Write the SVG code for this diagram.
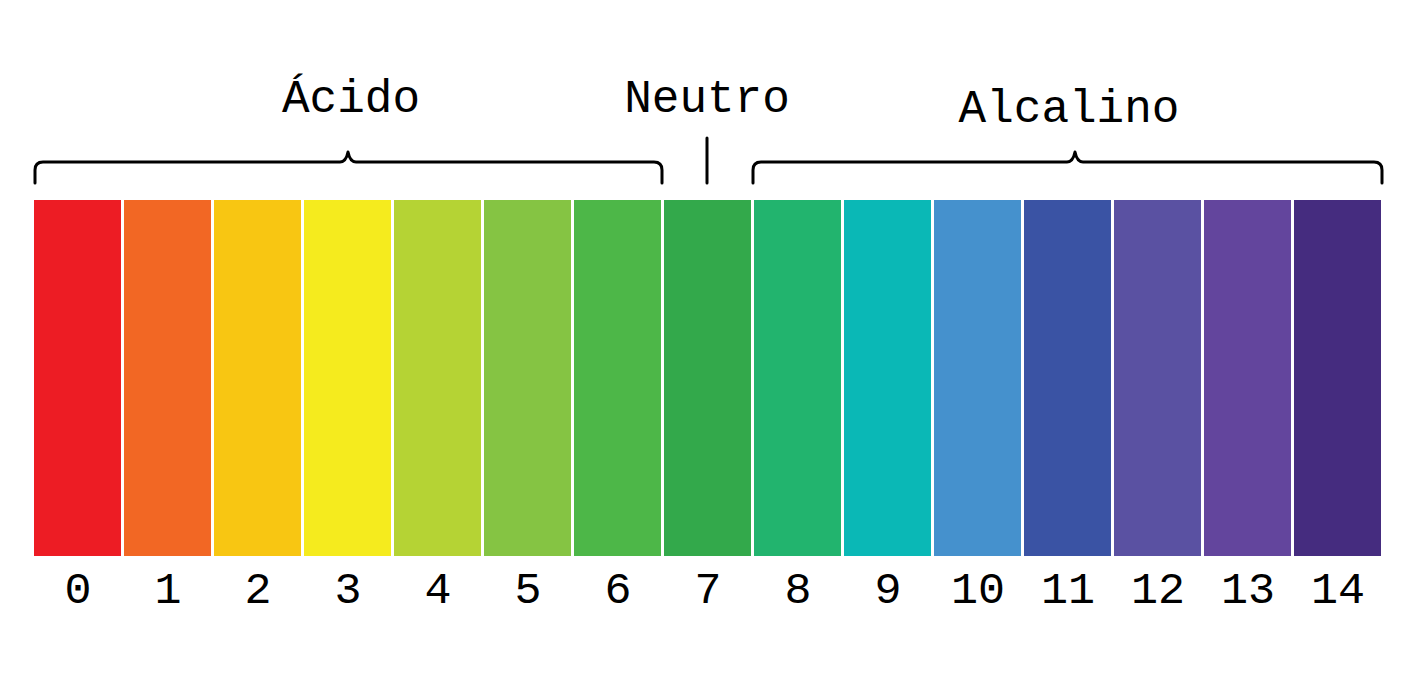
<svg xmlns="http://www.w3.org/2000/svg" width="1418" height="688" viewBox="0 0 1418 688">
<style>
.lbl{font-family:"Liberation Mono","Courier New",monospace;font-size:46px;fill:#000;text-anchor:middle}
.num{font-family:"Liberation Mono","Courier New",monospace;font-size:45px;fill:#000;text-anchor:middle}
.br{fill:none;stroke:#000;stroke-width:3;stroke-linecap:round;stroke-linejoin:round}
</style>
<rect width="1418" height="688" fill="#fff"/>
<g id="bars">
<rect x="34" y="200" width="87" height="356" fill="#ED1C24"/>
<rect x="124" y="200" width="87" height="356" fill="#F26724"/>
<rect x="214" y="200" width="87" height="356" fill="#F8C612"/>
<rect x="304" y="200" width="87" height="356" fill="#F5EB1E"/>
<rect x="394" y="200" width="87" height="356" fill="#B5D334"/>
<rect x="484" y="200" width="87" height="356" fill="#85C443"/>
<rect x="574" y="200" width="87" height="356" fill="#4DB748"/>
<rect x="664" y="200" width="87" height="356" fill="#33A94B"/>
<rect x="754" y="200" width="87" height="356" fill="#22B46E"/>
<rect x="844" y="200" width="87" height="356" fill="#0AB8B6"/>
<rect x="934" y="200" width="87" height="356" fill="#4591CD"/>
<rect x="1024" y="200" width="87" height="356" fill="#3A53A4"/>
<rect x="1114" y="200" width="87" height="356" fill="#5A51A2"/>
<rect x="1204" y="200" width="87" height="356" fill="#63459D"/>
<rect x="1294" y="200" width="87" height="356" fill="#452C7F"/>
</g>
<g id="numbers">
<text class="num" x="78" y="603">0</text>
<text class="num" x="168" y="603">1</text>
<text class="num" x="258" y="603">2</text>
<text class="num" x="348" y="603">3</text>
<text class="num" x="438" y="603">4</text>
<text class="num" x="528" y="603">5</text>
<text class="num" x="618" y="603">6</text>
<text class="num" x="708" y="603">7</text>
<text class="num" x="798" y="603">8</text>
<text class="num" x="888" y="603">9</text>
<text class="num" x="978" y="603">10</text>
<text class="num" x="1068" y="603">11</text>
<text class="num" x="1158" y="603">12</text>
<text class="num" x="1248" y="603">13</text>
<text class="num" x="1338" y="603">14</text>
</g>
<g id="connectors">
<path class="br" d="M35,183 V170 Q35,162 43,162 H340 Q346,162 348,152 Q350,162 356,162 H654 Q662,162 662,170 V183"/>
<path class="br" d="M707,138 V183"/>
<path class="br" d="M753,183 V170 Q753,162 761,162 H1067 Q1073,162 1075,152 Q1077,162 1083,162 H1374 Q1382,162 1382,170 V183"/>
</g>
<g id="acido"><text class="lbl" x="351" y="112">Ácido</text></g>
<g id="neutro"><text class="lbl" x="707" y="112">Neutro</text></g>
<g id="alcalino"><text class="lbl" x="1069" y="122">Alcalino</text></g>
</svg>
